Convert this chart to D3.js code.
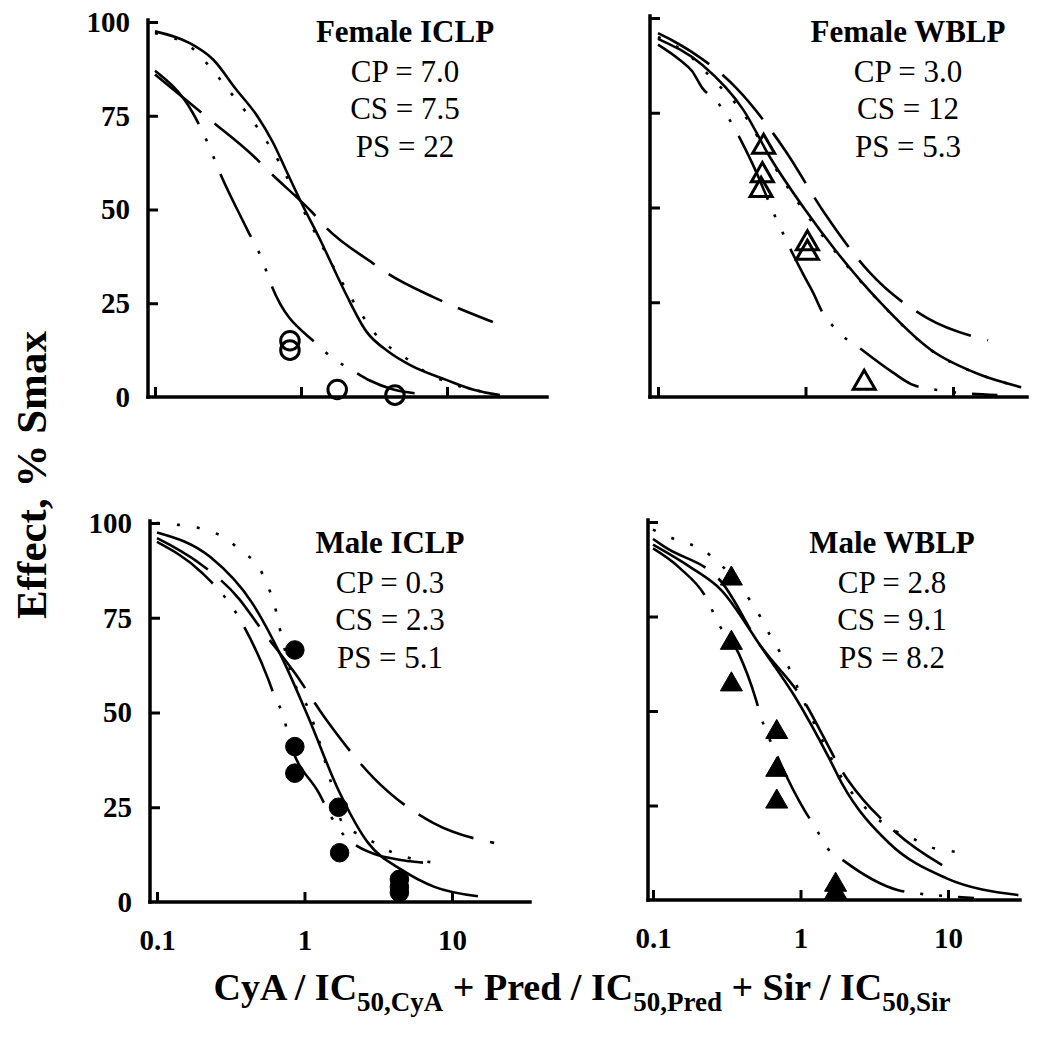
<!DOCTYPE html>
<html>
<head>
<meta charset="utf-8">
<script src="https://cdn.jsdelivr.net/npm/d3@7"></script>
<style>
    body { margin: 0; background: #fff; }
    svg text { font-family: 'Liberation Serif', 'Times New Roman', serif; fill: #000; }
    .axis-line { stroke: #000; stroke-width: 3.5; stroke-linecap: square; }
    .axis .tick line { stroke: #000; stroke-width: 3; }
    .axis .tick text { font-size: 29px; font-weight: bold; }
    .curve { fill: none; stroke: #000; stroke-width: 2.6; }
    .panel-title { font-size: 31px; font-weight: bold; }
    .panel-stat { font-size: 31px; }
    .axis-title { font-weight: bold; }
</style>
</head>
<body>
<svg id="chart" width="1041" height="1050"></svg>
<script>
// ticks
const xTicks = [0.1, 1, 10];
const yTicks = [0, 25, 50, 75, 100];

// Female ICLP
const femaleIclpStats = ['CP = 7.0', 'CS = 7.5', 'PS = 22'];
const femaleIclpSolid = [[0.1,97.5],[0.17,94.5],[0.25,90],[0.36,82],[0.5,75],[0.64,68],[0.8,60],[1,52],[1.35,42],[2,28],[2.8,17.5],[4,12],[5.6,8.5],[10,4.5],[15,2],[23,0.5]];
const femaleIclpDotted = [[0.1,97],[0.18,93],[0.25,87],[0.34,80.5],[0.5,72],[0.7,63],[1,51],[1.5,38],[2.6,22],[3.2,17],[5.4,10],[7.3,6.4],[10,4],[20,1]];
const femaleIclpDashed = [[0.1,86],[0.23,74.4],[0.48,64],[0.59,60.5],[1.21,49],[1.5,45],[3.1,35.7],[3.9,33],[8,26.7],[10,25],[20.6,20]];
const femaleIclpDashDot = [[0.1,87],[0.18,76],[0.24,66],[0.27,61],[0.43,44.5],[0.55,36],[0.61,31],[1.29,14],[1.66,10.3],[2.27,7],[2.96,4.4],[4.3,2],[6,1]];
const femaleIclpPoints = [[0.84,15],[0.84,12.5],[1.77,2],[4.4,0.5]];

// Female WBLP
const femaleWblpStats = ['CP = 3.0', 'CS = 12', 'PS = 5.3'];
const femaleWblpSolid = [[0.1,94.5],[0.2,87.6],[0.38,75.7],[0.58,63],[0.97,50],[1.65,38],[3.1,25.6],[7.1,12.4],[15,6],[29,2.6]];
const femaleWblpDotted = [[0.1,95],[0.17,89.5],[0.22,85],[0.4,73.5],[0.6,61.5],[1,48.5],[1.7,37],[3.2,25],[7,12.5],[15,6],[29,2.6]];
const femaleWblpDashed = [[0.1,96],[0.126,94],[0.17,91],[0.34,81.5],[0.73,65],[1.33,48.8],[2.7,33],[6.7,20.8],[17.3,15]];
const femaleWblpDashDot = [[0.1,93],[0.14,89],[0.17,86],[0.2,81.5],[0.25,78],[0.435,61.7],[0.625,47.5],[0.97,32.2],[1.13,27.4],[1.3,22.4],[1.55,18.5],[2.5,12],[3.9,6.5],[5.2,3.4],[8,1.8],[20,0.5]];
const femaleWblpPoints = [[0.52,66],[0.51,58.5],[0.5,54.6],[1.03,40.5],[1.03,38],[2.5,3.7]];

// Male ICLP
const maleIclpStats = ['CP = 0.3', 'CS = 2.3', 'PS = 5.1'];
const maleIclpSolid = [[0.1,97.5],[0.23,91],[0.44,79],[0.7,64.6],[1.06,48.8],[1.7,29.5],[2.7,15.6],[4.6,8.4],[7.6,4],[15,1.5]];
const maleIclpDotted = [[0.1,100],[0.14,99.5],[0.2,98.5],[0.29,96],[0.38,92.3],[0.49,88.4],[0.56,83.6],[0.62,79],[0.7,70],[0.85,58],[1.06,51],[1.2,45],[1.5,32],[1.8,21],[2.6,17],[4,13],[6,11],[8,10.3]];
const maleIclpDashed = [[0.1,96],[0.125,94],[0.2,89],[0.36,80],[0.5,72.4],[0.86,60.4],[1.41,48],[2.95,32.7],[7.5,20.8],[19.3,15.6]];
const maleIclpDashDot = [[0.1,95],[0.2,87],[0.36,75],[0.57,58.6],[0.63,54],[0.72,49],[0.78,43.5],[1.25,28.8],[1.6,21],[2.1,15.6],[4.6,11],[6,10.5],[8,10]];
const maleIclpPoints = [[0.86,66.5],[0.86,41],[0.86,34],[1.7,25],[1.73,13],[4.4,6],[4.4,4],[4.4,2.5]];

// Male WBLP
const maleWblpStats = ['CP = 2.8', 'CS = 9.1', 'PS = 8.2'];
const maleWblpSolid = [[0.1,94],[0.18,88],[0.29,82],[0.54,67],[0.92,53.7],[1.55,37.8],[1.9,31],[4,15],[9.7,5.8],[30,1.3]];
const maleWblpDotted = [[0.1,98],[0.15,95],[0.21,93],[0.29,88.6],[0.46,79],[0.54,74.6],[0.63,69.6],[0.74,65],[0.87,60],[0.97,55.6],[1.13,50],[1.5,40],[2,31],[3,23],[4.3,18.5],[5.7,16.4],[7.6,14],[10.1,13],[13.5,12.4]];
const maleWblpDashed = [[0.1,95.5],[0.12,93.4],[0.3,83.5],[0.52,68],[1,54],[2.1,31.7],[4.4,18],[9.8,8.5]];
const maleWblpDashDot = [[0.1,93],[0.15,88],[0.24,78.5],[0.27,74],[0.38,65.3],[0.5,52.9],[0.54,48.4],[0.68,38.9],[1.08,23.3],[1.27,19],[1.5,14],[1.87,11],[4.6,2.6],[6,1.8],[8,1.3],[15,0.5]];
const maleWblpPoints = [[0.34,85],[0.34,68],[0.34,57],[0.69,44.4],[0.69,34.4],[0.69,26],[1.73,4],[1.73,2]];

// line styles
const dashes = { solid: null, dotted: '3,17', dashed: '60,17', dashDot: '70,16,3,16,3,16' };

// panel layout (pixels)
const panels = [
    { title: 'Female ICLP', stats: femaleIclpStats, marker: 'circle', filled: false, points: femaleIclpPoints,
      curves: { solid: femaleIclpSolid, dotted: femaleIclpDotted, dashed: femaleIclpDashed, dashDot: femaleIclpDashDot },
      left: 148, right: 547, top: 22, bottom: 397, x01: 155, x10: 447, yLabels: true, xLabels: false, textX: 405, textY: 42 },
    { title: 'Female WBLP', stats: femaleWblpStats, marker: 'triangle', filled: false, points: femaleWblpPoints,
      curves: { solid: femaleWblpSolid, dotted: femaleWblpDotted, dashed: femaleWblpDashed, dashDot: femaleWblpDashDot },
      left: 650, right: 1027, top: 18, bottom: 397, x01: 658, x10: 953, yLabels: false, xLabels: false, textX: 908, textY: 42 },
    { title: 'Male ICLP', stats: maleIclpStats, marker: 'circle', filled: true, points: maleIclpPoints,
      curves: { solid: maleIclpSolid, dotted: maleIclpDotted, dashed: maleIclpDashed, dashDot: maleIclpDashDot },
      left: 150, right: 530, top: 523, bottom: 902, x01: 157, x10: 452, yLabels: true, xLabels: true, textX: 390, textY: 553 },
    { title: 'Male WBLP', stats: maleWblpStats, marker: 'triangle', filled: true, points: maleWblpPoints,
      curves: { solid: maleWblpSolid, dotted: maleWblpDotted, dashed: maleWblpDashed, dashDot: maleWblpDashDot },
      left: 648, right: 1020, top: 522, bottom: 900, x01: 653, x10: 948, yLabels: false, xLabels: true, textX: 892, textY: 553 }
];

const svg = d3.select('#chart');
svg.append('rect').attr('width', 1041).attr('height', 1050).attr('fill', '#fff');

function drawPanel(p) {
    let xScale = d3.scaleLog().domain([0.1, 10]).range([p.x01, p.x10]);
    let yScale = d3.scaleLinear().domain([0, 100]).range([p.bottom, p.top]);
    let g = svg.append('g');

    // axes: ticks via d3, lines drawn full length
    let xAxis = d3.axisBottom(xScale).tickValues(xTicks).tickSize(-10).tickPadding(27)
        .tickFormat(p.xLabels ? d => (d < 1 ? d3.format('.1f')(d) : d3.format('d')(d)) : '');
    g.append('g').attr('class', 'axis')
        .attr('transform', `translate(0,${p.bottom})`)
        .call(xAxis)
        .call(a => a.select('.domain').remove());
    let yAxis = d3.axisLeft(yScale).tickValues(yTicks).tickSize(-10).tickPadding(18)
        .tickFormat(p.yLabels ? d3.format('d') : '');
    g.append('g').attr('class', 'axis')
        .attr('transform', `translate(${p.left},0)`)
        .call(yAxis)
        .call(a => a.select('.domain').remove())
        .call(a => a.selectAll('.tick').filter(d => d === 0).select('line').remove());
    g.selectAll('.axis text').attr('font-family', null);
    g.append('line').attr('class', 'axis-line')
        .attr('x1', p.left).attr('x2', p.right).attr('y1', p.bottom).attr('y2', p.bottom);
    g.append('line').attr('class', 'axis-line')
        .attr('x1', p.left).attr('x2', p.left).attr('y1', yScale(100) - 2).attr('y2', p.bottom);

    // curves
    let line = d3.line()
        .x(d => xScale(d[0]))
        .y(d => yScale(d[1]))
        .curve(d3.curveMonotoneX);
    for (let style in p.curves) {
        g.append('path').attr('class', 'curve')
            .attr('d', line(p.curves[style]))
            .attr('stroke-dasharray', dashes[style]);
    }

    // markers
    let sym = d3.symbol()
        .type(p.marker === 'circle' ? d3.symbolCircle : d3.symbolTriangle)
        .size(p.marker === 'circle' ? 270 : 210);
    g.selectAll('path.marker').data(p.points).enter().append('path')
        .attr('class', 'marker')
        .attr('d', sym)
        .attr('transform', d => `translate(${xScale(d[0])},${yScale(d[1])})`)
        .attr('fill', p.filled ? '#000' : 'none')
        .attr('stroke', '#000')
        .attr('stroke-width', p.filled ? 1 : 3);

    // labels
    g.append('text').attr('class', 'panel-title')
        .attr('x', p.textX).attr('y', p.textY)
        .attr('text-anchor', 'middle').text(p.title);
    let offsets = [40, 77, 115];
    p.stats.forEach((s, i) => {
        g.append('text').attr('class', 'panel-stat')
            .attr('x', p.textX).attr('y', p.textY + offsets[i])
            .attr('text-anchor', 'middle').text(s);
    });
}

panels.forEach(drawPanel);

// axis titles
svg.append('text').attr('class', 'axis-title')
    .attr('transform', 'translate(46,475) rotate(-90)')
    .attr('text-anchor', 'middle')
    .attr('font-size', 43)
    .text('Effect, % Smax');

let xt = svg.append('text').attr('class', 'axis-title')
    .attr('x', 582).attr('y', 1000)
    .attr('text-anchor', 'middle')
    .attr('font-size', 38);
const xTitleParts = [['CyA / IC', false], ['50,CyA', true], [' + Pred / IC', false], ['50,Pred', true], [' + Sir / IC', false], ['50,Sir', true]];
xTitleParts.forEach(([t, sub]) => {
    xt.append('tspan')
        .attr('font-size', sub ? 27 : 38)
        .attr('dy', sub ? 11 : (t.startsWith(' ') ? -11 : 0))
        .text(t);
});
</script>
</body>
</html>
